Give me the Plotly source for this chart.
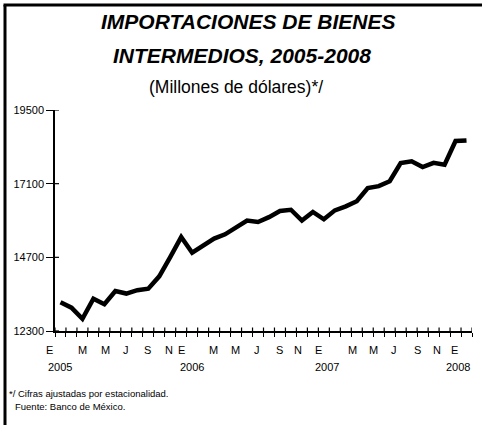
# importaciones_bienes_intermedios.py
# Importaciones de bienes intermedios 2005-2008 (serie mensual ajustada)

import plotly.graph_objects as go

# --- datos ---
meses = list(range(38))  # ene-2005 ... feb-2008
valores = [
    13240, 13060, 12700, 13350, 13170, 13600, 13520, 13630, 13680, 14080,
    14710, 15360, 14850, 15090, 15310, 15450, 15690, 15900, 15850, 16010,
    16210, 16250, 15900, 16180, 15940, 16230, 16360, 16530, 16960, 17020,
    17180, 17770, 17830, 17640, 17780, 17720, 18490, 18510,
]
etiquetas_mes = ["E", "M", "M", "J", "S", "N", "E", "M", "M", "J", "S", "N",
                 "E", "M", "M", "J", "S", "N", "E"]
pos_mes = [-0.96, 2.03, 4.06, 5.98, 7.92, 9.90, 11.06, 13.91, 15.92, 17.90,
           19.94, 21.67, 23.52, 26.57, 28.51, 30.43, 32.53, 34.33, 35.93]
etiquetas_anio = ["2005", "2006", "2007", "2008"]
pos_anio = [0.0, 12.0, 24.3, 36.2]
ticks_y = [12300, 14700, 17100, 19500]

L, R, T, B = 55, 472, 110, 331  # área de trazado en pixeles


def px_x(p):
    return (p - L) / (R - L)


def px_y(p):
    return (B - p) / (B - T)


limites = [i - 0.5 for i in range(len(meses) + 1)]

fig = go.Figure(go.Scatter(x=meses, y=valores, mode="lines",
                           line=dict(color="black", width=4.5)))
fig.update_layout(
    width=482, height=425, margin=dict(l=55, r=10, t=110, b=94),
    plot_bgcolor="white", paper_bgcolor="white",
    font=dict(family="Liberation Sans, Arial, sans-serif", size=11, color="black"),
    xaxis=dict(range=[-0.5, 37.5], tickvals=limites, showticklabels=False,
               ticks="outside", ticklen=4, tickwidth=1.2, tickcolor="black",
               showline=True, linecolor="black", linewidth=1.5,
               showgrid=False, zeroline=False),
    yaxis=dict(range=[12300, 19500], tickvals=ticks_y, ticktext=[str(v) for v in ticks_y],
               ticks="outside", ticklen=7, tickwidth=1.2, tickcolor="black",
               showline=True, linecolor="black", linewidth=1.5,
               showgrid=False, zeroline=False),
)

# parte interior de las marcas (cruzan el eje como en el original)
linea = dict(color="black", width=1.2)
for v in limites:
    fig.add_shape(type="line", xref="x", yref="paper", x0=v, x1=v,
                  y0=px_y(331), y1=px_y(327.5), line=linea)
for v in ticks_y:
    fig.add_shape(type="line", xref="paper", yref="y", x0=px_x(55), x1=px_x(59),
                  y0=v, y1=v, line=linea)

# títulos
titulos = [
    ("<b><i>IMPORTACIONES DE BIENES</i></b>", 248, 21.5, 21),
    ("<b><i>INTERMEDIOS, 2005-2008</i></b>", 242, 56, 21),
    ("(Millones de dólares)*/", 236, 87, 17.5),
]
for texto, cx, cy, tam in titulos:
    fig.add_annotation(text=texto, xref="paper", yref="paper", x=px_x(cx), y=px_y(cy),
                       xanchor="center", yanchor="middle", showarrow=False,
                       font=dict(size=tam))

# meses y años bajo el eje
for texto, pos in zip(etiquetas_mes, pos_mes):
    fig.add_annotation(text=texto, xref="paper", yref="paper",
                       x=(pos + 0.5) / 38, y=px_y(350),
                       xanchor="center", yanchor="middle", showarrow=False)
for texto, pos in zip(etiquetas_anio, pos_anio):
    fig.add_annotation(text=texto, xref="paper", yref="paper",
                       x=(pos + 0.5) / 38, y=px_y(366.7),
                       xanchor="center", yanchor="middle", showarrow=False)

# notas al pie
notas = [("*/ Cifras ajustadas por estacionalidad.", 7, 393.5),
         ("Fuente: Banco de México.", 13, 406.5)]
for texto, lx, cy in notas:
    fig.add_annotation(text=texto, xref="paper", yref="paper", x=px_x(lx), y=px_y(cy),
                       xanchor="left", yanchor="middle", showarrow=False,
                       font=dict(size=9.5))

# marco (borde izquierdo y superior)
fig.add_shape(type="line", xref="paper", yref="paper",
              x0=px_x(5), y0=px_y(5), x1=px_x(5), y1=px_y(440),
              line=dict(color="black", width=3))
fig.add_shape(type="line", xref="paper", yref="paper",
              x0=px_x(3.5), y0=px_y(5), x1=px_x(500), y1=px_y(5),
              line=dict(color="black", width=3))

fig.write_html("out.html", post_script="document.body.style.margin='0';",
               config={"displayModeBar": False})
